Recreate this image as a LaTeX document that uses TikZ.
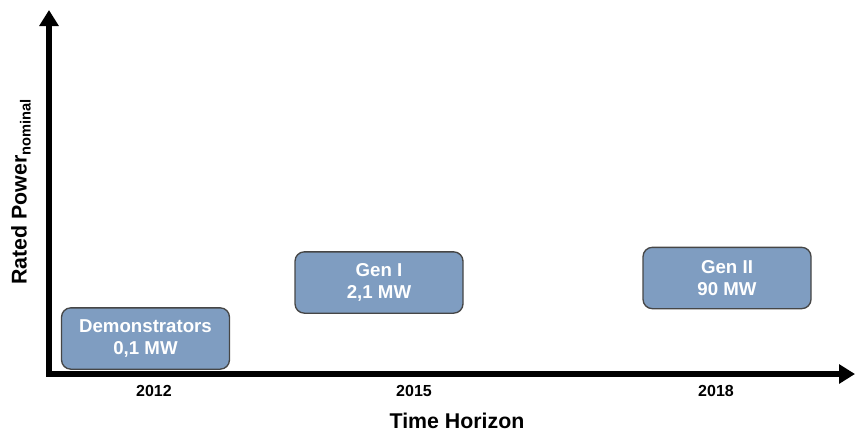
\documentclass[tikz,border=0pt]{standalone}
\usepackage{fontspec}
\setmainfont{Liberation Sans}
\usetikzlibrary{arrows.meta}
\definecolor{phasefill}{RGB}{127,157,193}
\definecolor{phaseedge}{RGB}{70,70,70}

\begin{document}
\begin{tikzpicture}[
            x=0.75pt, y=-0.75pt,
            phase/.style={rectangle, rounded corners=7pt, draw=phaseedge, line width=1pt,
                fill=phasefill, text=white, font=\fontsize{14}{16.5}\selectfont\bfseries,
                align=center, minimum width=126pt, minimum height=46pt, inner sep=0pt},
            year/.style={font=\fontsize{12}{14}\selectfont\bfseries},
            axis/.style={line width=3.8pt, line join=miter,
                {Triangle[width=14pt,length=12pt]}-{Triangle[width=14pt,length=12pt]}}
        ]
            \useasboundingbox (0,0) rectangle (855,432);

            \coordinate (ytip) at (49,10);
            \coordinate (xtip) at (855,374);
            \draw[axis] (ytip) |- (xtip);

            \node[phase] (demo) at (145.5,338.5) {Demonstrators\\0,1 MW};
            \node[phase] (genI) at (379,282.5) {Gen I\\2,1 MW};
            \node[phase] (genII) at (727,278) {Gen II\\90 MW};

            \node[year] (y12) at (154,391) {2012};
            \node[year] (y15) at (414,391) {2015};
            \node[year] (y18) at (716,391) {2018};

            \node[font=\fontsize{16}{18}\selectfont\bfseries] (time) at (457,421) {Time Horizon};
            \node[rotate=90, font=\fontsize{16}{18}\selectfont\bfseries] (power) at (21,192)
                {Rated Power\raisebox{-0.35ex}{\fontsize{11}{12}\selectfont nominal}};
        \end{tikzpicture}
\end{document}
